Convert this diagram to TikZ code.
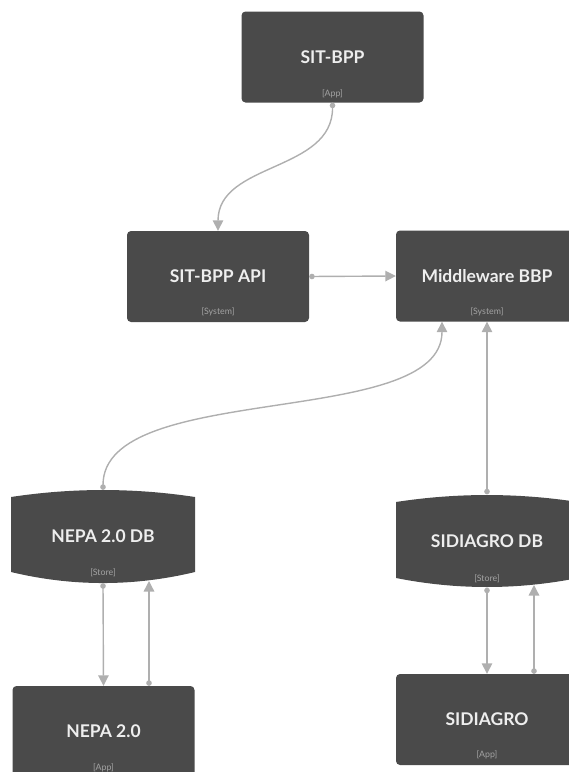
\documentclass[tikz,border=0pt]{standalone}
\usepackage{fontspec}
\setmainfont{Lato}
\usetikzlibrary{arrows.meta,calc}
\definecolor{boxc}{HTML}{4A4A4A}
\definecolor{linec}{HTML}{AFAFAF}
\definecolor{titlec}{HTML}{EEEEEE}
\definecolor{tagc}{HTML}{A3A3A3}
\begin{document}
\begin{tikzpicture}[x=1pt,y=-1pt,
  box/.style={fill=boxc, rounded corners=4pt, minimum width=182pt, minimum height=91pt, inner sep=0pt, text=titlec, font=\fontsize{17.5}{20}\selectfont\bfseries},
  cyl/.style={minimum width=184pt, minimum height=93pt, inner sep=0pt, text=titlec, font=\fontsize{17.5}{20}\selectfont\bfseries},
  tag/.style={text=tagc, font=\fontsize{8.8}{10}\selectfont, inner sep=0pt},
  conn/.style={draw=linec, line width=1.4pt, {Circle[length=5.5pt]}-{Triangle[length=10.5pt,width=10.5pt]}},
]
\useasboundingbox (0,0) rectangle (569,772);
\clip (0,0) rectangle (569,772);

% boxes
\node[box] (sitbpp) at (332.5,57) {SIT-BPP};
\node[box] (api) at (218,276.5) {SIT-BPP API};
\node[box] (mw) at (487,276) {Middleware BBP};
\node[box] (nepa) at (103.5,731.5) {NEPA 2.0};
\node[box] (sidiagro) at (487,719.5) {SIDIAGRO};

% cylinders
\fill[boxc] (11,497) .. controls (72.3,487.7) and (133.7,487.7) .. (195,497) -- (195,572) .. controls (133.7,586.7) and (72.3,586.7) .. (11,572) -- cycle;
\node[cyl] (nepadb) at (103,536.5) {NEPA 2.0 DB};
\fill[boxc] (396,502) .. controls (456.7,492.7) and (517.3,492.7) .. (578,502) -- (578,578) .. controls (517.3,590) and (456.7,590) .. (396,578) -- cycle;
\node[cyl] (sidb) at (487,541) {SIDIAGRO DB};

% tags
\node[tag] at ($(sitbpp.south)+(0,-9)$) {[App]};
\node[tag] at ($(api.south)+(0,-10)$) {[System]};
\node[tag] at ($(mw.south)+(0,-10)$) {[System]};
\node[tag] at ($(nepadb.south)+(0,-10)$) {[Store]};
\node[tag] at ($(sidb.south)+(0,-9)$) {[Store]};
\node[tag] at ($(nepa.south)+(0,-9)$) {[App]};
\node[tag] at ($(sidiagro.south)+(0,-10)$) {[App]};

% connector end points
\coordinate (nepadbin) at (149,581);
\coordinate (sidbin) at (534,585);

% connectors
\draw[conn] (sitbpp.south) .. controls (333,172) and (218,162) .. (api.north);
\draw[conn] (api.east) -- (mw.west);
\draw[conn] (nepadb.north) .. controls (103,380) and (442,430) .. ($(mw.south)+(-45,0)$);
\draw[conn] (sidb.north) -- (mw.south);
\draw[conn] (nepadb.south) -- (nepa.north);
\draw[conn] ($(nepa.north)+(45.5,0)$) -- (nepadbin);
\draw[conn] (sidb.south) -- (sidiagro.north);
\draw[conn] ($(sidiagro.north)+(47,0)$) -- (sidbin);
\end{tikzpicture}
\end{document}
